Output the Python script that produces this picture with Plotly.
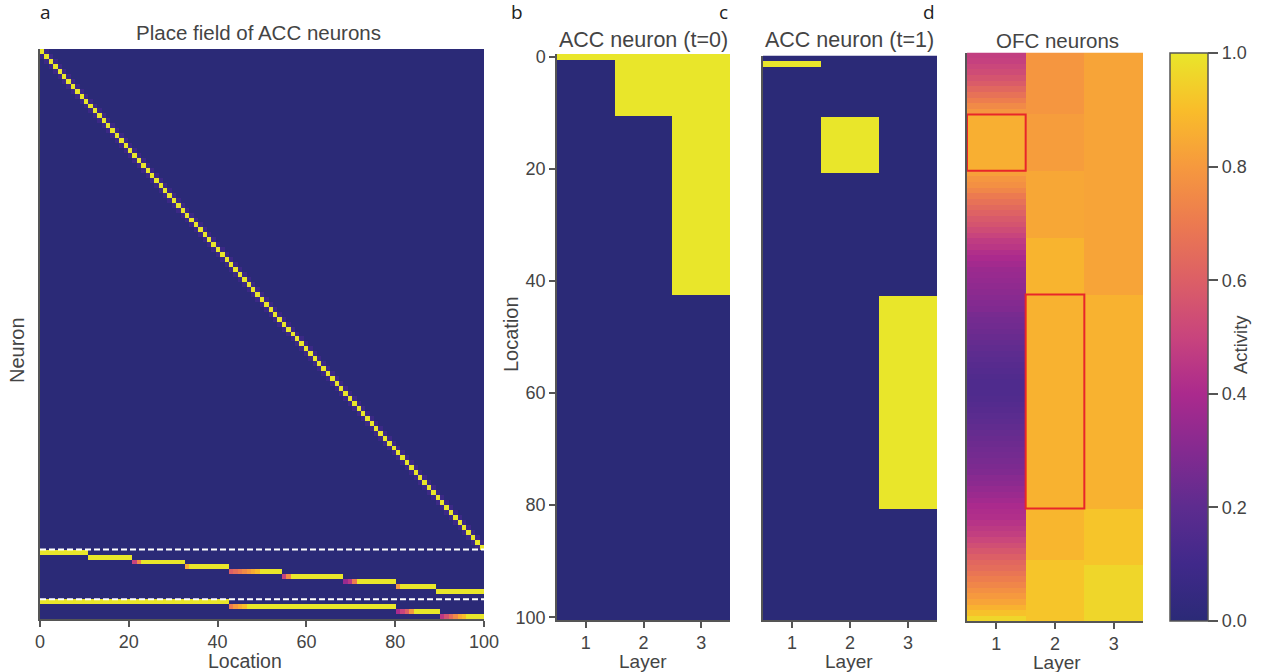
import plotly.graph_objects as go

W, H = 1261, 672

# ---------------- data ----------------
locations = list(range(101))          # 0..100
layers = [1, 2, 3]

# Panel a: place fields of ACC neurons
acc_diag_centres = list(range(101))   # layer-1 neuron i fires at location i
diag_peak = 1.0
diag_side = 0.08
layer2_fields = [(0, 10), (11, 20), (21, 32), (33, 42), (43, 54),
                 (55, 68), (69, 80), (81, 89), (90, 100)]
layer3_fields = [(0, 42), (43, 80), (81, 90), (91, 100)]
layer2_onsets = [[], [], [0.5, 0.75], [0.85], [0.6, 0.65, 0.7, 0.75, 0.8, 0.85, 0.9],
                 [0.5, 0.75], [0.35, 0.45, 0.7], [0.8], []]
layer3_onsets = [[], [0.7, 0.8, 0.85, 0.9], [0.4, 0.5, 0.6, 0.8],
                 [0.45, 0.55, 0.65, 0.75, 0.85, 0.9]]
layer2_rows = 10   # last row of the layer-2 block is silent

# Panels b, c: ACC activity at t=0 and t=1
acc_t0 = {"layer1_loc": 0, "layer2_neuron": 0, "layer3_neuron": 0}
acc_t1 = {"layer1_loc": 1, "layer2_neuron": 1, "layer3_neuron": 1}

# Panel d: OFC neurons
ofc_layer1 = [0.48, 0.49, 0.51, 0.53, 0.56, 0.59, 0.63, 0.67, 0.71, 0.75,
              0.79, 0.86, 0.86, 0.86, 0.86, 0.86, 0.86, 0.86, 0.86, 0.86,
              0.86, 0.82, 0.79, 0.77, 0.74, 0.70, 0.67, 0.64, 0.61, 0.58,
              0.56, 0.53, 0.50, 0.47, 0.45, 0.42, 0.40, 0.38, 0.36, 0.35,
              0.34, 0.33, 0.32, 0.31, 0.30, 0.29, 0.27, 0.26, 0.25, 0.24,
              0.23, 0.22, 0.21, 0.20, 0.19, 0.18, 0.17, 0.16, 0.15, 0.15,
              0.15, 0.16, 0.17, 0.18, 0.19, 0.20, 0.21, 0.22, 0.23, 0.24,
              0.25, 0.26, 0.27, 0.28, 0.29, 0.31, 0.32, 0.34, 0.36, 0.38,
              0.40, 0.41, 0.42, 0.44, 0.46, 0.48, 0.51, 0.54, 0.57, 0.60,
              0.63, 0.65, 0.68, 0.71, 0.74, 0.77, 0.80, 0.83, 0.87, 0.91,
              0.96]
ofc_layer2 = [0.79, 0.81, 0.84, 0.875, 0.87, 0.87, 0.87, 0.88, 0.92]
ofc_layer3 = [0.83, 0.87, 0.92, 0.96]

colorbar_ticks = [0.0, 0.2, 0.4, 0.6, 0.8, 1.0]
colorbar_ticktext = ["0.0", "0.2", "0.4", "0.6", "0.8", "1.0"]

# muted plasma-like colour map as printed in the reference
cmap = [[0.0, "#2B2A77"], [0.1, "#40298A"], [0.2, "#5D2C8F"], [0.3, "#842A90"],
        [0.4, "#AB2A8D"], [0.5, "#C8447D"], [0.6, "#DC5F66"], [0.7, "#EC7A50"],
        [0.8, "#F6993E"], [0.9, "#F9BD2A"], [1.0, "#E9E62A"]]

# ---------------- build matrices ----------------
def field_row(start, end, onset):
    row = [0.0] * len(locations)
    for l in range(start, end + 1):
        row[l] = 1.0
    for k, v in enumerate(onset):
        if start + k <= end:
            row[start + k] = v
    return row

z_a = []
for c in acc_diag_centres:
    row = [0.0] * len(locations)
    row[c] = diag_peak
    if c - 1 >= 0:
        row[c - 1] = diag_side
    if c + 1 < len(locations):
        row[c + 1] = diag_side
    z_a.append(row)
for i in range(layer2_rows):
    if i < len(layer2_fields):
        s, e = layer2_fields[i]
        z_a.append(field_row(s, e, layer2_onsets[i]))
    else:
        z_a.append([0.0] * len(locations))
for i, (s, e) in enumerate(layer3_fields):
    z_a.append(field_row(s, e, layer3_onsets[i]))
n_rows_a = len(z_a)
x_a = [(i + 0.5) * 100 / len(locations) for i in range(len(locations))]


def neuron_of(loc, fields):
    for i, (s, e) in enumerate(fields):
        if s <= loc <= e:
            return i
    return None


def acc_state(state):
    z = []
    for l in locations:
        v1 = 1.0 if l == state["layer1_loc"] else 0.0
        v2 = 1.0 if neuron_of(l, layer2_fields) == state["layer2_neuron"] else 0.0
        v3 = 1.0 if neuron_of(l, layer3_fields) == state["layer3_neuron"] else 0.0
        z.append([v1, v2, v3])
    return z


z_b = acc_state(acc_t0)
z_c = acc_state(acc_t1)
z_d = []
for l in locations:
    z_d.append([ofc_layer1[l],
                ofc_layer2[neuron_of(l, layer2_fields)],
                ofc_layer3[neuron_of(l, layer3_fields)]])

# ---------------- figure ----------------
fig = go.Figure()
fig.add_trace(go.Heatmap(z=z_a, x=x_a, y=list(range(n_rows_a)), coloraxis="coloraxis",
                         xaxis="x", yaxis="y", zsmooth=False, hoverinfo="skip"))
fig.add_trace(go.Heatmap(z=z_b, x=layers, y=locations, coloraxis="coloraxis",
                         xaxis="x2", yaxis="y2", zsmooth=False, hoverinfo="skip"))
fig.add_trace(go.Heatmap(z=z_c, x=layers, y=locations, coloraxis="coloraxis",
                         xaxis="x3", yaxis="y3", zsmooth=False, hoverinfo="skip"))
fig.add_trace(go.Heatmap(z=z_d, x=layers, y=locations, coloraxis="coloraxis",
                         xaxis="x4", yaxis="y4", zsmooth=False, hoverinfo="skip"))

AX = "#555555"
TXT = "#444444"
FONT = "Liberation Sans, Arial, sans-serif"
tickfont = dict(family=FONT, size=18, color=TXT)


def px_x(a, b):
    return [a / W, b / W]


def px_y(top, bottom):
    return [1 - bottom / H, 1 - top / H]


common = dict(showgrid=False, zeroline=False, showline=True, linecolor=AX, linewidth=1.5,
              tickcolor=AX, tickwidth=1.5, tickfont=tickfont)

layout_axes = {
    "xaxis": dict(domain=px_x(40, 484), range=[0, 100], tickvals=[0, 20, 40, 60, 80, 100],
                  ticks="outside", ticklen=6, anchor="y", **common),
    "yaxis": dict(domain=px_y(49, 619), range=[n_rows_a - 0.5, -0.5], showticklabels=False,
                  ticks="", anchor="x", **common),
    "xaxis2": dict(domain=px_x(557, 730), range=[0.5, 3.5], tickvals=layers, ticks="outside",
                   ticklen=6, anchor="y2", **common),
    "yaxis2": dict(domain=px_y(54, 620), range=[100.5, -0.5], tickvals=[0, 20, 40, 60, 80, 100],
                   ticks="outside", ticklen=6, anchor="x2", **common),
    "xaxis3": dict(domain=px_x(763, 937), range=[0.5, 3.5], tickvals=layers, ticks="outside",
                   ticklen=6, anchor="y3", **common),
    "yaxis3": dict(domain=px_y(55.5, 620), range=[100.5, -0.5], showticklabels=False,
                   ticks="", anchor="x3", **common),
    "xaxis4": dict(domain=px_x(967, 1143), range=[0.5, 3.5], tickvals=layers, ticks="outside",
                   ticklen=6, anchor="y4", **common),
    "yaxis4": dict(domain=px_y(52.5, 621), range=[100.5, -0.5], showticklabels=False,
                   ticks="", anchor="x4", **common),
}

shapes = []
for yb in [len(acc_diag_centres) - 0.5, len(acc_diag_centres) + layer2_rows - 0.5]:
    shapes.append(dict(type="line", xref="x", yref="y", x0=0, x1=100, y0=yb, y1=yb,
                       line=dict(color="white", width=2, dash="6px,3px")))
# red boxes in panel d
box_specs = [(1, layer2_fields[1]), (2, layer3_fields[1])]
for layer, (s, e) in box_specs:
    shapes.append(dict(type="rect", xref="x4", yref="y4", x0=layer - 0.5, x1=layer + 0.5,
                       y0=s - 0.5, y1=e + 0.5, line=dict(color="#E8262A", width=2),
                       fillcolor="rgba(0,0,0,0)"))

ann = []


def add_text(text, x, y, size=17, angle=0, family=FONT, color=TXT):
    ann.append(dict(text=text, x=x / W, y=1 - y / H, xref="paper", yref="paper",
                    showarrow=False, xanchor="center", yanchor="middle", textangle=angle,
                    borderpad=0, font=dict(family=family, size=size, color=color)))


LET = "Open Sans, Liberation Sans, sans-serif"
add_text("a", 45, 12, size=19, family=LET, color="#222222")
add_text("b", 517, 12, size=19, family=LET, color="#222222")
add_text("c", 723, 12, size=19, family=LET, color="#222222")
add_text("d", 929, 12, size=19, family=LET, color="#222222")
add_text("Place field of ACC neurons", 258, 32, size=20.5)
add_text("ACC neuron (t=0)", 643, 40, size=21.5)
add_text("ACC neuron (t=1)", 849, 40, size=21.5)
add_text("OFC neurons", 1057, 40, size=20.5)
add_text("Location", 245, 661, size=19.5)
add_text("Layer", 643, 661, size=19)
add_text("Layer", 849, 661, size=19)
add_text("Layer", 1057, 662, size=19)
add_text("Neuron", 17, 350, size=20, angle=-90)
add_text("Location", 511, 334, size=20, angle=-90)
add_text("Activity", 1241, 345, size=18.5, angle=-90)

fig.update_layout(
    width=W, height=H, margin=dict(l=0, r=0, t=0, b=0, autoexpand=False),
    paper_bgcolor="white", plot_bgcolor="white",
    coloraxis=dict(colorscale=cmap, cmin=0, cmax=1,
                   colorbar=dict(x=1170 / W, xanchor="left", xpad=0, ypad=0,
                                 y=1 - 53 / H, yanchor="top", lenmode="pixels", len=568,
                                 thicknessmode="pixels", thickness=38,
                                 outlinewidth=1.5, outlinecolor=AX,
                                 ticks="outside", ticklen=10, tickwidth=1.5, tickcolor=AX,
                                 tickvals=colorbar_ticks, ticktext=colorbar_ticktext,
                                 tickfont=tickfont)),
    shapes=shapes, annotations=ann, showlegend=False,
    **layout_axes,
)

fig.write_html("out.html", config={"displayModeBar": False},
               post_script="document.body.style.margin='0px';")
